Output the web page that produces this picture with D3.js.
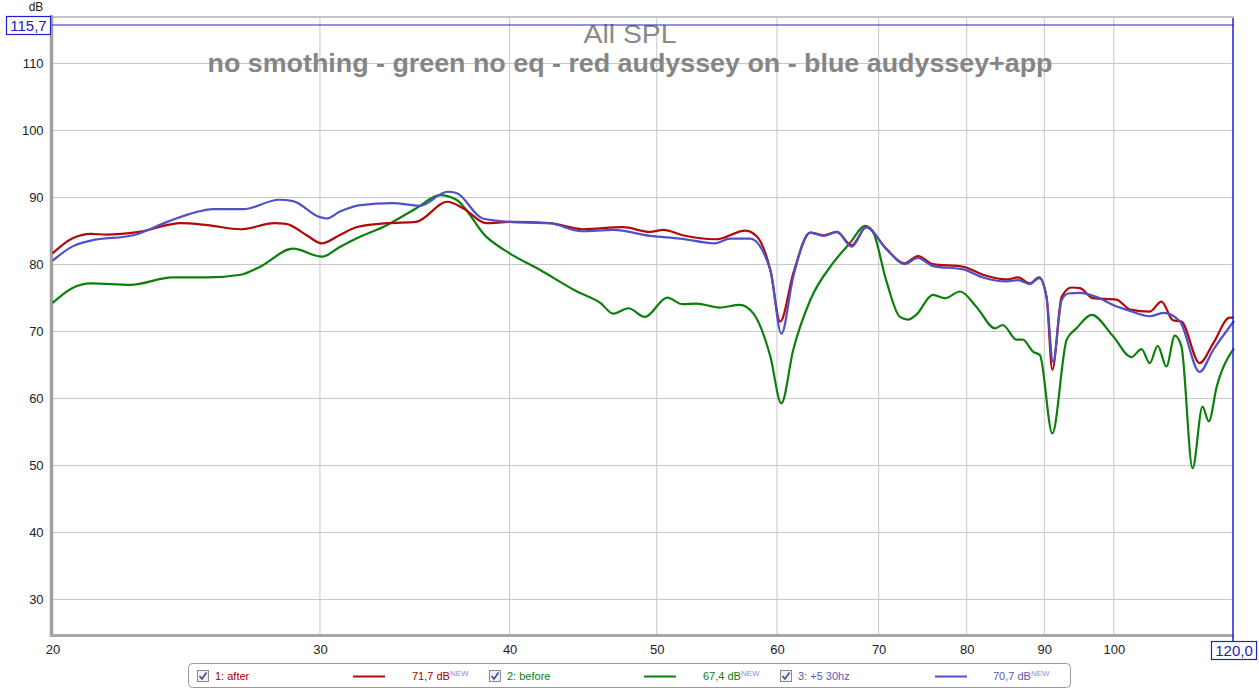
<!DOCTYPE html>
<html><head><meta charset="utf-8">
<script src="https://cdn.jsdelivr.net/npm/d3@7"></script>
<style>
body{margin:0;background:#fff;}
svg{display:block;font-family:"Liberation Sans",Arial,sans-serif;}
</style></head>
<body><svg id="c" width="1259" height="690"></svg>
<script>
const xTicks = [20, 30, 40, 50, 60, 70, 80, 90, 100];
const yTicks = [30, 40, 50, 60, 70, 80, 90, 100, 110];
const titleText = "All SPL";
const subtitleText = "no smothing - green no eq - red audyssey on - blue audyssey+app";

const afterFreq = [20.0,20.6,21.2,21.7,22.8,24.3,25.3,26.6,28.0,28.5,29.4,30.08,30.9,31.7,33.2,34.7,36.4,37.3,38.6,40.0,42.5,44.7,47.5,49.5,50.5,52.0,54.7,57.2,58.2,59.4,60.3,61.5,63.1,64.4,65.7,67.2,68.7,70.8,72.8,74.3,76.0,79.6,82.0,85.0,86.5,88.0,89.3,90.3,91.1,92.4,93.8,95.0,96.9,100.4,102.5,105.6,107.5,109.4,110.8,113.9,116.3,119.2,120];
const afterDb   = [81.6,83.8,84.5,84.4,84.8,86.1,85.8,85.2,86.1,86.0,84.3,83.1,84.3,85.5,86.1,86.3,89.3,88.3,86.1,86.3,86.1,85.2,85.5,84.8,85.1,84.3,83.7,85.0,84.1,79.1,71.4,78.6,84.7,84.3,84.8,82.8,85.5,82.3,80.1,81.2,80.0,79.6,78.4,77.7,78.0,77.1,78.0,75.1,64.2,75.1,76.5,76.4,74.9,74.7,73.2,72.9,74.4,71.6,71.4,65.2,68.2,72.0,72.0];

const beforeFreq = [20.0,20.6,21.2,22.5,24.0,25.3,26.6,27.4,28.8,30.1,30.9,31.7,33.2,34.7,36.0,36.9,38.6,40.0,41.9,44.3,45.9,46.8,47.9,49.1,50.8,52.0,53.1,55.0,56.7,57.9,59.4,60.4,61.5,63.1,65.3,67.0,68.6,69.4,70.8,72.3,73.2,74.1,76.0,77.4,79.2,81.2,83.5,84.5,86.3,87.1,88.5,89.4,91.1,93.1,94.5,96.7,99.9,102.7,104.3,105.6,106.9,108.3,109.7,110.8,112.7,114.4,115.5,116.9,120];
const beforeDb   = [74.2,76.4,77.1,76.9,78.0,78.0,78.4,79.6,82.3,81.1,82.5,83.8,85.8,88.3,90.3,89.6,84.1,81.6,79.1,75.9,74.2,72.6,73.4,72.1,75.0,74.0,74.1,73.5,73.9,72.6,66.2,59.2,67.2,74.6,80.1,83.1,85.7,84.8,77.6,72.1,71.7,72.4,75.4,74.9,75.9,73.6,70.4,70.9,68.7,68.7,66.9,66.4,54.7,68.7,70.4,72.4,69.2,66.1,67.3,65.2,67.8,64.7,69.3,67.7,49.5,58.7,56.5,61.7,67.4];

const plusFreq = [20.0,20.6,21.2,22.6,23.8,24.9,25.5,26.7,28.2,28.8,30.0,30.3,30.9,31.9,33.5,34.9,36.4,36.9,38.4,40.0,42.5,44.6,46.8,49.5,51.8,54.6,55.9,57.6,59.4,60.4,61.5,63.1,64.4,65.7,67.2,68.7,70.8,72.8,74.3,76.0,79.6,82.0,85.0,86.5,88.0,89.3,90.3,91.2,92.4,93.3,95.0,97.4,99.9,102.5,105.6,107.8,110.5,113.9,116.3,120];
const plusDb   = [80.5,82.6,83.5,84.3,86.3,87.8,88.2,88.2,89.6,89.4,87.0,86.8,87.8,88.8,89.1,88.7,90.8,90.6,86.8,86.3,86.1,84.9,85.1,84.2,83.8,83.1,83.8,83.8,79.1,69.6,78.1,84.7,84.2,84.8,82.6,85.5,82.3,80.0,80.9,79.7,79.2,78.0,77.4,77.6,77.0,77.9,75.1,65.4,74.6,75.6,75.7,75.1,73.9,73.0,72.2,72.7,71.5,63.9,67.2,71.5];

const seriesNames = ["1: after", "2: before", "3: +5 30hz"];
const seriesLevels = ["71,7 dB", "67,4 dB", "70,7 dB"];
const yTopLabel = "115,7";
const xRightLabel = "120,0";

const lineColors = ["#b00a0a", "#0c800c", "#5050c8"];
const textColors = ["#a00000", "#108010", "#5a5ab0"];

const svg = d3.select("#c");
const x = d3.scaleLog().domain([20, 120]).range([52.6, 1234]);
const y = d3.scaleLinear().domain([24.6, 115.7]).range([635, 25]);

// grid
const g = svg.append("g");
g.selectAll(".vg").data(xTicks.slice(1)).join("line")
  .attr("x1", d => x(d)).attr("x2", d => x(d)).attr("y1", 18).attr("y2", 635)
  .attr("stroke", "#c8c8c8").attr("stroke-width", 1);
g.selectAll(".hg").data(yTicks).join("line")
  .attr("x1", 52).attr("x2", 1234).attr("y1", d => Math.round(y(d)) + 0.5).attr("y2", d => Math.round(y(d)) + 0.5)
  .attr("stroke", "#c8c8c8").attr("stroke-width", 1);

// frame
svg.append("line").attr("x1", 52).attr("x2", 1234).attr("y1", 17).attr("y2", 17).attr("stroke", "#c4c4c4").attr("stroke-width", 2);
svg.append("line").attr("x1", 51.5).attr("x2", 51.5).attr("y1", 15).attr("y2", 637).attr("stroke", "#a0a0a0").attr("stroke-width", 3.5);
svg.append("line").attr("x1", 50).attr("x2", 1234).attr("y1", 635.5).attr("y2", 635.5).attr("stroke", "#a8a8a8").attr("stroke-width", 3);

// axes
const yAxis = svg.append("g").attr("transform", "translate(52.6,0)")
  .call(d3.axisLeft(y).tickValues(yTicks).tickSize(0).tickPadding(9).tickFormat(d3.format("d")));
yAxis.select(".domain").remove();
yAxis.selectAll("text").attr("font-size", 13).attr("fill", "#222").attr("font-family", "Liberation Sans, Arial, sans-serif");
const xAxis = svg.append("g").attr("transform", "translate(0,635)")
  .call(d3.axisBottom(x).tickValues(xTicks).tickSize(0).tickPadding(10).tickFormat(d3.format("d")));
xAxis.select(".domain").remove();
xAxis.selectAll("text").attr("font-size", 13).attr("fill", "#222").attr("font-family", "Liberation Sans, Arial, sans-serif");

svg.append("text").attr("x", 36).attr("y", 11).attr("text-anchor", "middle").attr("font-size", 12).attr("fill", "#222").text("dB");

// title
svg.append("text").attr("x", 630).attr("y", 43).attr("text-anchor", "middle").attr("font-size", 26)
  .attr("textLength", 93).attr("lengthAdjust", "spacingAndGlyphs")
  .attr("fill", "#8a8a8a").text(titleText);
svg.append("text").attr("x", 630).attr("y", 72).attr("text-anchor", "middle").attr("font-size", 25).attr("font-weight", "bold")
  .attr("textLength", 845).attr("lengthAdjust", "spacingAndGlyphs")
  .attr("fill", "#858585").text(subtitleText);

// curves
const line = d3.line().x(d => x(d[0])).y(d => y(d[1])).curve(d3.curveMonotoneX);
const data = [
  d3.zip(beforeFreq, beforeDb),
  d3.zip(afterFreq, afterDb),
  d3.zip(plusFreq, plusDb)
];
const colorOrder = [1, 0, 2];
data.forEach((d, i) => {
  svg.append("path").attr("d", line(d)).attr("fill", "none")
    .attr("stroke", lineColors[colorOrder[i]]).attr("stroke-width", 2.2).attr("stroke-linejoin", "round");
});

// cursor lines
svg.append("line").attr("x1", 52).attr("x2", x(120)).attr("y1", y(115.7)).attr("y2", y(115.7)).attr("stroke", "#2020d8").attr("stroke-width", 1.2);
svg.append("line").attr("x1", x(120) - 1).attr("x2", x(120) - 1).attr("y1", 18).attr("y2", 642).attr("stroke", "#2020d8").attr("stroke-width", 1.5);

svg.append("rect").attr("x", 6.5).attr("y", 16.5).attr("width", 44).attr("height", 18).attr("fill", "#fff").attr("stroke", "#2020d0").attr("stroke-width", 1.2);
svg.append("text").attr("x", 28.5).attr("y", 31).attr("text-anchor", "middle").attr("font-size", 15).attr("fill", "#2020c0").text(yTopLabel);
svg.append("rect").attr("x", 1211.5).attr("y", 641.5).attr("width", 45).attr("height", 18).attr("fill", "#fff").attr("stroke", "#2020d0").attr("stroke-width", 1.2);
svg.append("text").attr("x", 1234).attr("y", 656).attr("text-anchor", "middle").attr("font-size", 15).attr("fill", "#2020c0").text(xRightLabel);

// legend
const lg = svg.append("g");
lg.append("rect").attr("x", 188.5).attr("y", 663.5).attr("width", 882).attr("height", 24).attr("rx", 4)
  .attr("fill", "#fff").attr("stroke", "#9a9a9a");
const itemX = [197, 489, 780];
const lineX = [353, 644, 935];
const levelX = [412, 703, 993];
seriesNames.forEach((n, i) => {
  const cb = lg.append("g").attr("transform", `translate(${itemX[i]},670)`);
  cb.append("rect").attr("x", 0.5).attr("y", 0.5).attr("width", 11).attr("height", 11).attr("fill", "#eef0f6").attr("stroke", "#8a8a8a");
  cb.append("path").attr("d", "M2.5,6 L5,9 L9.5,2.5").attr("fill", "none").attr("stroke", "#3a4a9a").attr("stroke-width", 1.6);
  lg.append("text").attr("x", itemX[i] + 18).attr("y", 680).attr("font-size", 11).attr("fill", textColors[i]).text(n);
  lg.append("line").attr("x1", lineX[i]).attr("x2", lineX[i] + 32).attr("y1", 676.5).attr("y2", 676.5)
    .attr("stroke", lineColors[i]).attr("stroke-width", 2);
  const t = lg.append("text").attr("x", levelX[i]).attr("y", 680).attr("font-size", 11).attr("fill", textColors[i]);
  t.append("tspan").text(seriesLevels[i]);
  t.append("tspan").attr("dy", -4).attr("font-size", 8).attr("fill", "#8c8ce0").text("NEW");
});
</script>
</body></html>
